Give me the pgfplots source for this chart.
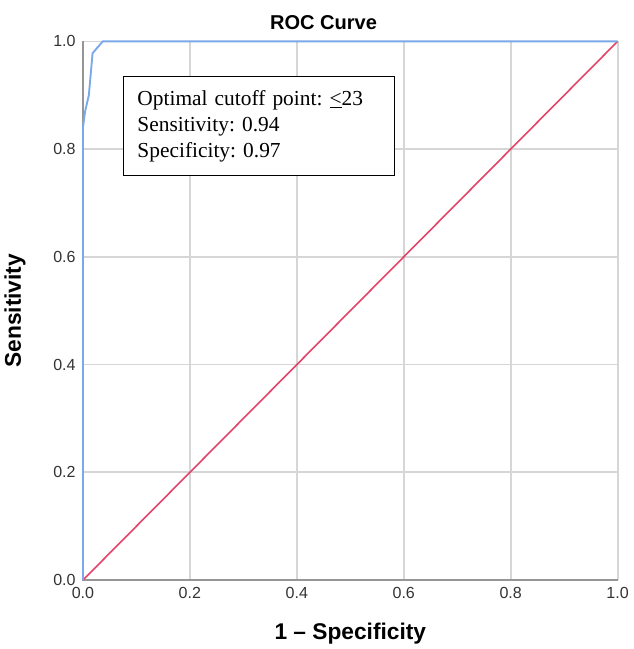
\documentclass[border=0pt]{standalone}
\usepackage{pgfplots}
\pgfplotsset{compat=1.18}
\usepackage{fontspec}
\setmainfont{Liberation Sans}
\newfontfamily\boxfont{Liberation Serif}
\definecolor{roc}{RGB}{122,168,232}
\definecolor{ref}{RGB}{226,68,106}
\definecolor{gridc}{RGB}{214,214,214}
\definecolor{axc}{RGB}{150,150,150}
\begin{document}
\frenchspacing
\begin{tikzpicture}
\begin{axis}[
  scale only axis, width=400pt, height=403pt,
  xmin=0, xmax=1, ymin=0, ymax=1,
  xtick={0,0.2,...,1}, ytick={0,0.2,...,1},
  /pgf/number format/fixed,
  /pgf/number format/fixed zerofill,
  /pgf/number format/precision=1,
  /pgf/number format/assume math mode=true,
  tick label style={font=\fontsize{12}{14}\selectfont, text=black!80},
  xticklabel style={yshift=-2pt}, yticklabel style={xshift=-2pt},
  major tick length=0pt,
  grid=major, major grid style={gridc, line width=1.3pt},
  axis line style={draw=none},
  title={\bfseries\rule{0pt}{19pt}ROC Curve},
  title style={font=\fontsize{15}{17}\selectfont, at={(axis description cs:0.45,1.0065)}, anchor=base},
  xlabel={\bfseries 1 -- Specificity}, ylabel={\bfseries Sensitivity},
  label style={font=\fontsize{17}{19}\selectfont},
  xlabel style={at={(axis description cs:0.5,-0.1)}, anchor=center},
  ylabel style={at={(axis description cs:-0.127,0.5)}, anchor=center},
  clip=false,
]
\draw[axc, line width=1.8pt] (axis cs:0,1) -- (axis cs:0,0) -- (axis cs:1,0);
\addplot[ref, line width=1.2pt] coordinates {(0,0) (1,1)};
\addplot[roc, line width=1.4pt] coordinates {
  (0,0) (0,0.84) (0.004,0.87) (0.011,0.90) (0.018,0.978) (0.037,1) (1,1)
};
\node[draw=black, fill=white, anchor=north west, line width=0.6pt,
  align=left, inner xsep=10.5pt, inner ysep=10pt, text width=182pt,
  font=\boxfont\fontsize{16}{19.5}\selectfont] at (axis cs:0.075,0.935)
  {Optimal cutoff point: \underline{<}23\\Sensitivity: 0.94\\Specificity: 0.97};
\end{axis}
\end{tikzpicture}
\end{document}
